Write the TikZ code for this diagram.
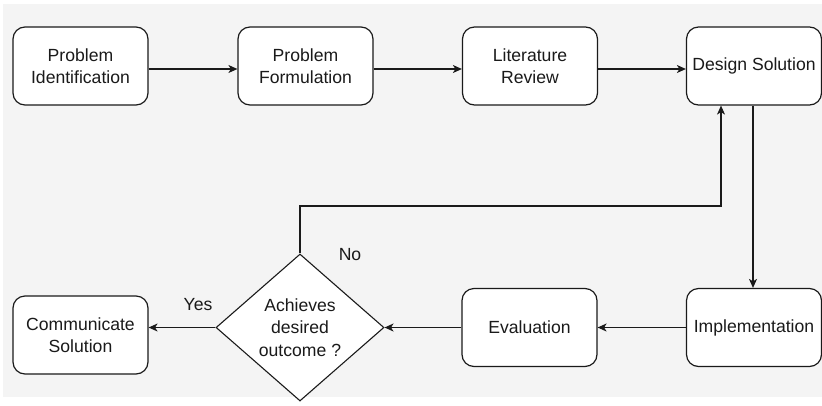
\documentclass[tikz,border=0pt]{standalone}
\usepackage{fontspec}
\setmainfont{Liberation Sans}
\usetikzlibrary{shapes.geometric,arrows.meta}
\definecolor{canvas}{HTML}{F4F4F4}
\definecolor{ink}{HTML}{1A1A1A}
\begin{document}
\begin{tikzpicture}[x=1pt,y=-1pt,
  font=\fontsize{17.6}{22.5}\selectfont,
  stepbox/.style={draw=ink, fill=white, line width=1.2pt, rounded corners=12pt,
    minimum width=135pt, minimum height=78pt, align=center, inner sep=2pt, text=ink},
  decision/.style={draw=ink, fill=white, line width=1.1pt, diamond,
    minimum width=168pt, minimum height=147pt, inner sep=0pt, align=center, text=ink},
  flow/.style={draw=ink, line width=1.2pt, -{Stealth[length=9pt,width=8pt,inset=2.5pt]}},
  lbl/.style={text=ink}]
  \useasboundingbox (0,0) rectangle (822,405);
  \fill[canvas] (3,4) rectangle (822,397);

  % top row
  \node[stepbox] (pid) at (80.5,66) {Problem\\Identification};
  \node[stepbox] (pf)  at (305.5,66) {Problem\\Formulation};
  \node[stepbox] (lr)  at (530,66) {Literature\\Review};
  \node[stepbox] (ds)  at (754,66) {Design Solution};

  % bottom row
  \node[stepbox] (imp) at (754,327.5) {Implementation};
  \node[stepbox] (ev)  at (529.5,327.5) {Evaluation};
  \node[decision] (dec) at (300,327.5) {Achieves\\desired\\outcome ?};
  \node[stepbox] (com) at (80.5,335) {Communicate\\Solution};

  % loop-back corner
  \coordinate (up) at (300,206);

  % connectors
  \draw[flow] ([yshift=-3pt]pid.east) -- ([yshift=-3pt]pf.west);
  \draw[flow] ([yshift=-3pt]pf.east) -- ([yshift=-3pt]lr.west);
  \draw[flow] ([yshift=-3pt]lr.east) -- ([yshift=-3pt]ds.west);
  \draw[flow] ([xshift=-1pt]ds.south) -- ([xshift=-1pt]imp.north);
  \draw[flow] (imp.west) -- (ev.east);
  \draw[flow] (ev.west) -- (dec.east);
  \draw[flow] (dec.west) -- (dec.west -| com.east);
  \draw[flow] (dec.north) -- (up) -| ([xshift=-33pt]ds.south);

  % branch labels
  \node[lbl] (no)  at (350,255) {No};
  \node[lbl] (yes) at (198,305) {Yes};
\end{tikzpicture}
\end{document}
